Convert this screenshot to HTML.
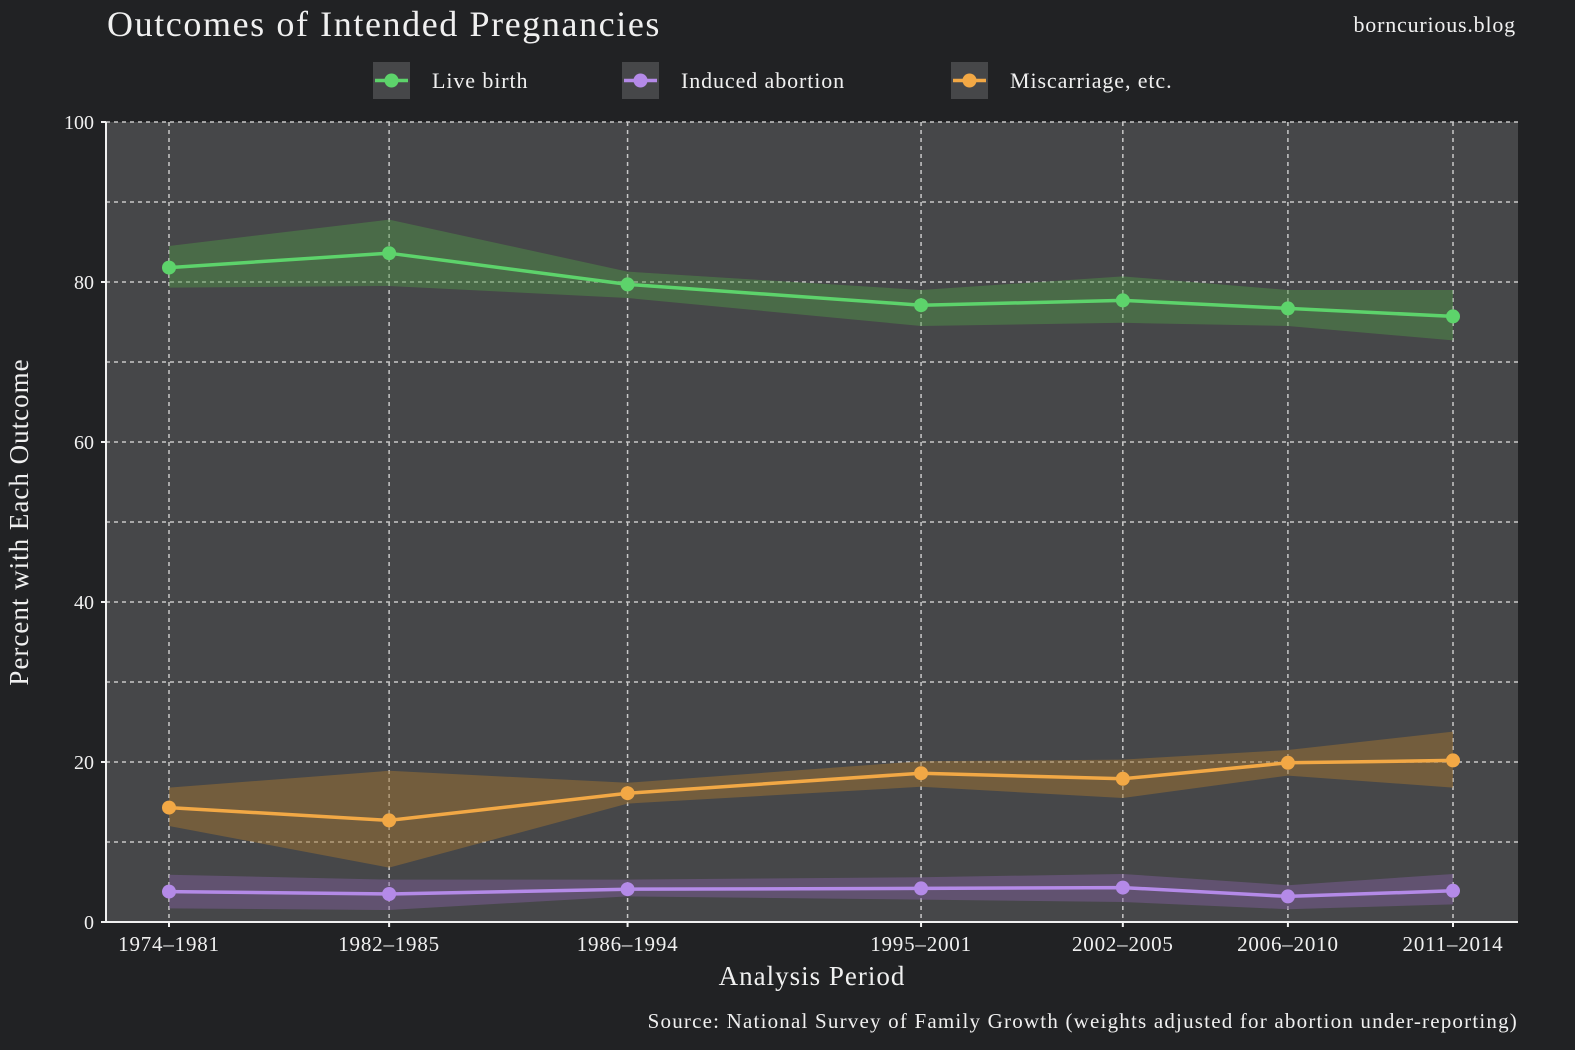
<!DOCTYPE html>
<html><head><meta charset="utf-8"><style>
body{margin:0;background:#212224;}
svg{display:block;font-family:"Liberation Serif",serif;}
</style></head><body>
<svg id="chart" width="1575" height="1050">
<rect width="1575" height="1050" fill="#212224"/>
<text x="107" y="36" font-size="36" letter-spacing="1.6" fill="#f0f0f0">Outcomes of Intended Pregnancies</text>
<text x="1516" y="32" font-size="22" letter-spacing="0.8" fill="#f0f0f0" text-anchor="end">borncurious.blog</text>
<g id="legend"></g>
<rect x="106" y="122" width="1412" height="800" fill="#464749"/>
<g id="grid"></g><g id="bands"></g><g id="lines"></g><g id="axes"></g>
<text x="812" y="985" font-size="27" letter-spacing="1" fill="#f0f0f0" text-anchor="middle">Analysis Period</text>
<text transform="translate(28,522) rotate(-90)" font-size="27" letter-spacing="1" fill="#f0f0f0" text-anchor="middle">Percent with Each Outcome</text>
<text x="1518" y="1028" font-size="21" letter-spacing="1.2" fill="#f0f0f0" text-anchor="end">Source: National Survey of Family Growth (weights adjusted for abortion under-reporting)</text>
</svg>
<script>
const periods=["1974–1981","1982–1985","1986–1994","1995–2001","2002–2005","2006–2010","2011–2014"];
const midYears=[1977.5,1983.5,1990,1998,2003.5,2008,2012.5];
const liveBirth=[81.8,83.6,79.7,77.1,77.7,76.7,75.7];
const liveHi=[84.5,87.8,81.3,79.0,80.7,79.0,79.0];
const liveLo=[79.3,79.5,78.0,74.5,74.9,74.5,72.7];
const abortion=[3.8,3.5,4.1,4.2,4.3,3.2,3.9];
const abortHi=[5.9,5.3,5.3,5.6,6.0,4.6,6.0];
const abortLo=[1.7,1.5,3.2,2.8,2.5,1.6,2.2];
const miscarriage=[14.3,12.7,16.1,18.6,17.9,19.9,20.2];
const miscHi=[16.8,18.9,17.4,20.1,20.3,21.5,23.8];
const miscLo=[12.0,6.8,14.8,16.9,15.5,18.3,16.8];
const yTicks=[0,20,40,60,80,100];
const yGrid=[10,20,30,40,50,60,70,80,90,100];
const seriesNames=["Live birth","Induced abortion","Miscarriage, etc."];

const NS="http://www.w3.org/2000/svg";
const X0=106,X1=1518,Y0=922,Y1=122;
const xs=v=>169+(v-1977.5)*(1453-169)/35;
const ys=v=>Y0-(v/100)*(Y0-Y1);
function mk(tag,attrs,parent){const e=document.createElementNS(NS,tag);for(const k in attrs)e.setAttribute(k,attrs[k]);parent.appendChild(e);return e;}
const grid=document.getElementById('grid'),bands=document.getElementById('bands'),lines=document.getElementById('lines'),axes=document.getElementById('axes'),legend=document.getElementById('legend');
yGrid.forEach(v=>{const l=mk('line',{x1:X0,x2:X1,y1:ys(v),y2:ys(v),stroke:'#c8c8c8','stroke-width':1.5,'stroke-dasharray':'4,4'},grid);

});
midYears.forEach(v=>{const l=mk('line',{x1:xs(v),x2:xs(v),y1:Y1,y2:Y0,stroke:'#c8c8c8','stroke-width':1.5,'stroke-dasharray':'4,4'},grid);

});
const series=[
 {name:'live-birth',vals:liveBirth,hi:liveHi,lo:liveLo,color:'#5dd36b',band:'rgba(80,150,70,0.45)'},
 {name:'induced-abortion',vals:abortion,hi:abortHi,lo:abortLo,color:'#b48ae8',band:'rgba(130,95,160,0.45)'},
 {name:'miscarriage',vals:miscarriage,hi:miscHi,lo:miscLo,color:'#f2a845',band:'rgba(160,115,50,0.5)'}];
series.forEach(s=>{
 let d='M'+midYears.map((m,i)=>xs(m)+','+ys(s.hi[i])).join('L')+'L'+midYears.map((m,i)=>xs(m)+','+ys(s.lo[i])).reverse().join('L')+'Z';
 const b=mk('path',{d:d,fill:s.band},bands);
 
 
 const p=mk('polyline',{points:midYears.map((m,i)=>xs(m)+','+ys(s.vals[i])).join(' '),fill:'none',stroke:s.color,'stroke-width':3.5},lines);
 
 
 midYears.forEach((m,i)=>{const c=mk('circle',{cx:xs(m),cy:ys(s.vals[i]),r:7,fill:s.color},lines);
 
 });
});
const ax=mk('line',{x1:X0,x2:X0,y1:Y1,y2:Y0+1,stroke:'#f0f0f0','stroke-width':2},axes);

const bx=mk('line',{x1:X0-1,x2:X1,y1:Y0,y2:Y0,stroke:'#f0f0f0','stroke-width':2},axes);

yTicks.forEach(v=>{mk('line',{x1:X0-5,x2:X0,y1:ys(v),y2:ys(v),stroke:'#f0f0f0','stroke-width':2},axes);
 const t=mk('text',{x:X0-12,y:ys(v)+7,'font-size':20,fill:'#f0f0f0','text-anchor':'end'},axes);t.textContent=v;
 });
midYears.forEach((m,i)=>{mk('line',{x1:xs(m),x2:xs(m),y1:Y0,y2:Y0+5,stroke:'#f0f0f0','stroke-width':2},axes);
 const t=mk('text',{x:xs(m),y:951,'font-size':21,'letter-spacing':0.8,fill:'#f0f0f0','text-anchor':'middle'},axes);t.textContent=periods[i];
 });
const lx=[373,622,951];
series.forEach((s,i)=>{
 const r=mk('rect',{x:lx[i],y:62,width:37,height:37,fill:'#464749'},legend);
 
 mk('line',{x1:lx[i]+2,x2:lx[i]+35,y1:80.5,y2:80.5,stroke:s.color,'stroke-width':3.5},legend);
 mk('circle',{cx:lx[i]+18.5,cy:80.5,r:7,fill:s.color},legend);
 const t=mk('text',{x:lx[i]+59,y:88,'font-size':22,'letter-spacing':0.9,fill:'#f0f0f0'},legend);t.textContent=seriesNames[i];
 
});
</script>
</body></html>
